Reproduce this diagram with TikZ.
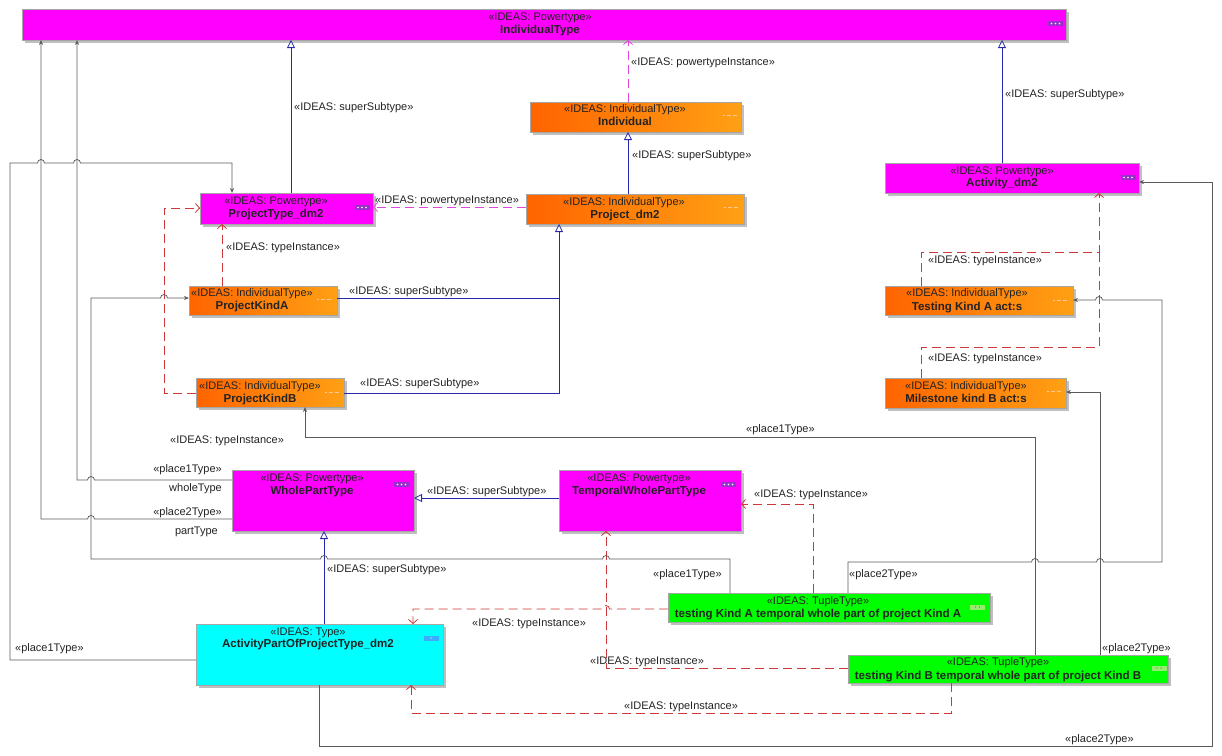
\documentclass[tikz,border=0pt]{standalone}
\usepackage{fontspec}
\setmainfont{Liberation Sans}
\usetikzlibrary{arrows.meta,shadows}
\definecolor{mag}{RGB}{255,0,255}
\definecolor{orL}{RGB}{255,100,0}
\definecolor{orR}{RGB}{255,160,20}
\definecolor{cy}{RGB}{0,255,255}
\definecolor{gr}{RGB}{0,255,0}
\definecolor{genblue}{RGB}{40,40,170}
\definecolor{tired}{RGB}{205,55,55}
\definecolor{pmag}{RGB}{225,70,225}
\definecolor{assocg}{RGB}{90,90,90}
\definecolor{txt}{RGB}{35,35,35}
\definecolor{dotmag}{RGB}{150,50,200}
\definecolor{dotor}{RGB}{255,200,150}
\definecolor{dotgr}{RGB}{150,235,110}
\definecolor{dotcy}{RGB}{60,170,255}
\begin{document}
\begin{tikzpicture}[x=1pt,y=-1pt,
  box/.style={draw=black!35,line width=0.5pt,inner sep=0pt,outer sep=0pt,
    drop shadow={shadow xshift=2.5pt,shadow yshift=-2.5pt,fill=black!25,opacity=1}},
  magbox/.style={box,fill=mag},
  orbox/.style={box,left color=orL,right color=orR},
  cybox/.style={box,fill=cy},
  grbox/.style={box,fill=gr},
  st/.style={font=\fontsize{11}{13}\selectfont,text=txt,inner sep=0pt,text height=8pt,text depth=2pt},
  nm/.style={font=\bfseries\fontsize{11.5}{13}\selectfont,text=txt,inner sep=0pt,text height=8pt,text depth=2pt},
  lab/.style={font=\fontsize{11}{13}\selectfont,text=txt,inner sep=0pt,anchor=west,text height=8pt,text depth=2pt},
  labr/.style={lab,anchor=east},
  dotsbase/.style={inner sep=0pt,outer sep=0pt,minimum width=15pt,minimum height=5pt},
  dotsm/.style={dotsbase,fill=dotmag,path picture={\foreach \i in {-4,0,4}
      \fill[white] ([xshift=\i pt]path picture bounding box.center) circle (0.8pt);}},
  dotso/.style={dotsbase,path picture={
      \draw[dotor,line width=1pt] ([xshift=-7pt]path picture bounding box.center) -- ++(2.5pt,0)
        ([xshift=-2.5pt]path picture bounding box.center) -- ++(4pt,0)
        ([xshift=3pt]path picture bounding box.center) -- ++(4pt,0);}},
  dotsg/.style={dotsbase,fill=dotgr,path picture={\foreach \i in {-2,2}
      \fill[black!60] ([xshift=\i pt]path picture bounding box.center) circle (0.6pt);}},
  dotsc/.style={dotsbase,fill=dotcy,path picture={
      \fill[white] (path picture bounding box.center) circle (0.6pt);}},
  gen/.style={draw=genblue,line width=0.8pt,-{Triangle[open,length=8pt,width=8pt,fill=white]}},
  genl/.style={draw=genblue,line width=0.8pt},
  tinst/.style={draw=tired,line width=0.8pt,dash pattern=on 9pt off 5pt,-{Straight Barb[length=4pt,width=9pt]}},
  tinstl/.style={draw=tired,line width=0.8pt,dash pattern=on 9pt off 5pt},
  pinst/.style={draw=pmag,line width=0.8pt,dash pattern=on 9pt off 5pt,-{Straight Barb[length=4pt,width=9pt]}},
  assoc/.style={draw=assocg,line width=0.75pt,-{Stealth[length=5pt,width=4pt]}},
  hr/.style={start angle=180,end angle=0,radius=3.5pt},
  hl/.style={start angle=0,end angle=180,radius=3.5pt}
]
\useasboundingbox (0,0) rectangle (1222,755);

% ---------- boxes ----------
\node[magbox,minimum width=1044pt,minimum height=31pt] (IT) at (544,24.5) {};
\node[orbox,minimum width=211pt,minimum height=30pt] (Ind) at (635.5,117) {};
\node[orbox,minimum width=218pt,minimum height=30pt] (Proj) at (635,209) {};
\node[magbox,minimum width=173pt,minimum height=31pt] (PT) at (286.5,208.5) {};
\node[orbox,minimum width=148pt,minimum height=29pt] (PKA) at (263,300.5) {};
\node[orbox,minimum width=148pt,minimum height=29pt] (PKB) at (270,392.5) {};
\node[magbox,minimum width=254pt,minimum height=30pt] (Act) at (1012,178) {};
\node[orbox,minimum width=188pt,minimum height=29pt] (TKA) at (979,300.5) {};
\node[orbox,minimum width=181pt,minimum height=30pt] (MKB) at (975.5,393) {};
\node[magbox,minimum width=182pt,minimum height=61pt] (WPT) at (323,500.5) {};
\node[magbox,minimum width=182pt,minimum height=61pt] (TWPT) at (650,500.5) {};
\node[cybox,minimum width=247pt,minimum height=61pt] (APP) at (319.5,654.5) {};
\node[grbox,minimum width=322pt,minimum height=29pt] (TA) at (829,607.5) {};
\node[grbox,minimum width=320pt,minimum height=28pt] (TB) at (1008,669) {};

% ---------- box texts ----------
\node[st] (ITs) at (540,17) {«IDEAS: Powertype»};
\node[nm] (ITn) at (540,30) {IndividualType};
\node[st] (Inds) at (625,109) {«IDEAS: IndividualType»};
\node[nm] (Indn) at (625,122) {Individual};
\node[st] (Projs) at (624,202) {«IDEAS: IndividualType»};
\node[nm] (Projn) at (625,215) {Project\_dm2};
\node[st] (PTs) at (276,201) {«IDEAS: Powertype»};
\node[nm] (PTn) at (276,214) {ProjectType\_dm2};
\node[st] (PKAs) at (252,293) {«IDEAS: IndividualType»};
\node[nm] (PKAn) at (252,306) {ProjectKindA};
\node[st] (PKBs) at (260,386) {«IDEAS: IndividualType»};
\node[nm] (PKBn) at (260,399) {ProjectKindB};
\node[st] (Acts) at (1002,171) {«IDEAS: Powertype»};
\node[nm] (Actn) at (1002,183) {Activity\_dm2};
\node[st] (TKAs) at (967,293) {«IDEAS: IndividualType»};
\node[nm] (TKAn) at (967,307) {Testing Kind A act:s};
\node[st] (MKBs) at (966,386) {«IDEAS: IndividualType»};
\node[nm] (MKBn) at (966,399) {Milestone kind B act:s};
\node[st] (WPTs) at (312,478) {«IDEAS: Powertype»};
\node[nm] (WPTn) at (312,491) {WholePartType};
\node[st] (TWPTs) at (639,478) {«IDEAS: Powertype»};
\node[nm] (TWPTn) at (639,491) {TemporalWholePartType};
\node[st] (APPs) at (308,632) {«IDEAS: Type»};
\node[nm] (APPn) at (308,644) {ActivityPartOfProjectType\_dm2};
\node[st] (TAs) at (818,601) {«IDEAS: TupleType»};
\node[nm] (TAn) at (818,614) {testing Kind A temporal whole part of project Kind A};
\node[st] (TBs) at (998,662) {«IDEAS: TupleType»};
\node[nm] (TBn) at (998,676) {testing Kind B temporal whole part of project Kind B};

% ---------- "..." markers ----------
\node[dotsm] (ITd) at (1055.5,23.5) {};
\node[dotso] (Indd) at (729.5,115) {};
\node[dotso] (Projd) at (730.5,207) {};
\node[dotsm] (PTd) at (362,207.5) {};
\node[dotso] (PKAd) at (323.5,299) {};
\node[dotso] (PKBd) at (331.5,392) {};
\node[dotsm] (Actd) at (1128,177.5) {};
\node[dotso] (TKAd) at (1059.5,300) {};
\node[dotso] (MKBd) at (1053.5,391) {};
\node[dotsm] (WPTd) at (401.5,484.5) {};
\node[dotsm] (TWPTd) at (728.5,484.5) {};
\node[dotsc] (APPd) at (431,638) {};
\node[dotsg] (TAd) at (977.5,607) {};
\node[dotsg] (TBd) at (1159,668) {};

% ---------- generalisations ----------
\draw[gen] (PT.north -| 291,0) -- (IT.south -| 291,0);
\draw[gen] (Proj.north -| 628,0) -- (Ind.south -| 628,0);
\draw[gen] (Act.north -| 1002,0) -- (IT.south -| 1002,0);
\coordinate (jn) at (559,298);
\draw[gen] (PKA.east |- 0,298) -- (jn) -- (Proj.south -| 559,0);
\draw[genl] (PKB.east |- 0,393) -- (559,393) -- (jn);
\draw[gen] (TWPT.west |- 0,498) -- (WPT.east |- 0,498);
\draw[gen] (APP.north -| 324,0) -- (WPT.south -| 324,0);

% ---------- powertype instances ----------
\draw[pinst] (Ind.north -| 628,0) -- (IT.south -| 628,0);
\draw[pinst] (Proj.west |- 0,207) -- (PT.east |- 0,207);

% ---------- type instances ----------
\draw[tinst] (PKA.north -| 222,0) -- (PT.south -| 222,0);
\draw[tinst] (PKB.west |- 0,393) -- (164,393) -- (164,208) -- (PT.west |- 0,208);
\coordinate (ji) at (1099,252);
\draw[tinst] (TKA.north -| 921,0) -- (921,252) -- (ji) -- (Act.south -| 1099,0);
\draw[tinstl] (MKB.north -| 921,0) -- (921,347) -- (1099,347) -- (ji);
\draw[tinst] (TA.north -| 813,0) -- (813,504) -- (TWPT.east |- 0,504);
\draw[tinst] (TA.west |- 0,609) -- (609.5,609) arc[hl] -- (413,609) -- (APP.north -| 413,0);
\draw[tinst] (TB.west |- 0,668) -- (606,668) -- (TWPT.south -| 606,0);
\draw[tinst] (TB.south -| 951,0) -- (951,713) -- (411,713) -- (APP.south -| 411,0);

% ---------- associations ----------
\draw[assoc] (APP.south -| 319,0) -- (319,746) -- (1212,746) -- (1212,182) -- (Act.east |- 0,182);
\draw[assoc] (APP.west |- 0,660) -- (10,660) -- (10,163) -- (37.5,163) arc[hr] -- (73.5,163) arc[hr] -- (232,163) -- (PT.north -| 232,0);
\draw[assoc] (WPT.west |- 0,480) -- (94.5,480) arc[hl] -- (77,480) -- (IT.south -| 77,0);
\draw[assoc] (WPT.west |- 0,519) -- (94.5,519) arc[hl] -- (41,519) -- (IT.south -| 41,0);
\draw[assoc] (TA.north -| 730,0) -- (730,559) -- (609.5,559) arc[hl] -- (327.5,559) arc[hl] -- (91,559) -- (91,298) -- (160.5,298) arc[hr] -- (PKA.west |- 0,298);
\draw[assoc] (TA.north -| 848,0) -- (848,562) -- (1031.5,562) arc[hr] -- (1096.5,562) arc[hr] -- (1162,562) -- (1162,300) -- (1102.5,300) arc[hl] -- (TKA.east |- 0,300);
\draw[assoc] (TB.north -| 1035,0) -- (1035,437) -- (305,437) -- (PKB.south -| 305,0);
\draw[assoc] (TB.north -| 1100,0) -- (1100,392) -- (MKB.east |- 0,392);

% ---------- connector labels ----------
\node[lab] (lA) at (294,107) {«IDEAS: superSubtype»};
\node[lab] (lB) at (631,62) {«IDEAS: powertypeInstance»};
\node[lab] (lC) at (632,155) {«IDEAS: superSubtype»};
\node[lab] (lD) at (375,200) {«IDEAS: powertypeInstance»};
\node[lab] (lE) at (349,291) {«IDEAS: superSubtype»};
\node[lab] (lF) at (360,383) {«IDEAS: superSubtype»};
\node[lab] (lG) at (226,247) {«IDEAS: typeInstance»};
\node[lab] (lH) at (170,440) {«IDEAS: typeInstance»};
\node[lab] (lI) at (928,260) {«IDEAS: typeInstance»};
\node[lab] (lJ) at (928,358) {«IDEAS: typeInstance»};
\node[lab] (lAct) at (1005,94) {«IDEAS: superSubtype»};
\node[lab] (lK) at (1065,739) {«place2Type»};
\node[lab] (lL) at (15,648) {«place1Type»};
\node[labr] (lM1) at (222,469) {«place1Type»};
\node[labr] (lM2) at (222,488) {wholeType};
\node[labr] (lN1) at (222,512) {«place2Type»};
\node[labr] (lN2) at (218,531) {partType};
\node[lab] (lO) at (653,574) {«place1Type»};
\node[lab] (lP) at (849,574) {«place2Type»};
\node[lab] (lQ) at (746,429) {«place1Type»};
\node[lab] (lR) at (1102,648) {«place2Type»};
\node[lab] (lS) at (327,569) {«IDEAS: superSubtype»};
\node[lab] (lT) at (427,491) {«IDEAS: superSubtype»};
\node[lab] (lU) at (754,494) {«IDEAS: typeInstance»};
\node[lab] (lV) at (472,623) {«IDEAS: typeInstance»};
\node[lab] (lW) at (590,661) {«IDEAS: typeInstance»};
\node[lab] (lX) at (624,706) {«IDEAS: typeInstance»};
\end{tikzpicture}
\end{document}
